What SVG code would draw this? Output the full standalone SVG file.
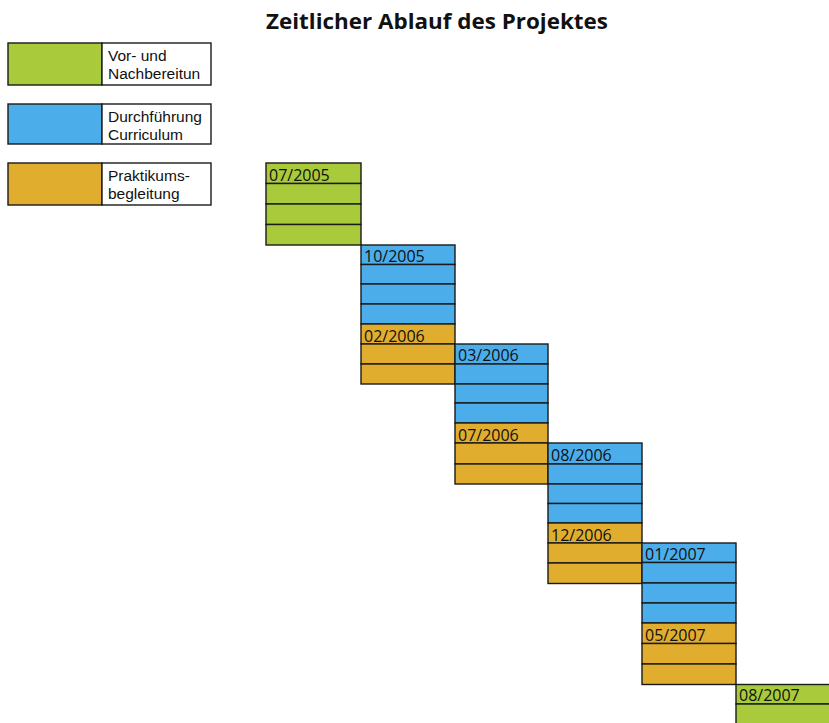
<svg xmlns="http://www.w3.org/2000/svg" width="829" height="723" viewBox="0 0 829 723">
<style>
.g{fill:#a9ca3a;stroke:#1a1a1a;stroke-width:1.4}
.b{fill:#4badea;stroke:#1a1a1a;stroke-width:1.4}
.o{fill:#e1ad2f;stroke:#1a1a1a;stroke-width:1.4}
.w{fill:#ffffff;stroke:#1a1a1a;stroke-width:1.4}
.t{font-family:"Liberation Sans",Arial,sans-serif;font-size:15.5px;fill:#111}
.d{font-family:"Open Sans","Liberation Sans",sans-serif;font-size:16px;fill:#111}
.h{font-family:"Open Sans","Liberation Sans",sans-serif;font-size:21px;font-weight:bold;fill:#111}
</style>
<rect width="829" height="723" fill="#ffffff"/>
<text class="h" x="266" y="29" textLength="342" lengthAdjust="spacingAndGlyphs">Zeitlicher Ablauf des Projektes</text>
<g id="legend-vor">
<rect class="g" x="8" y="43" width="94" height="42"/>
<rect class="w" x="102" y="43" width="109" height="42"/>
<text class="t" x="108" y="61">Vor- und</text>
<text class="t" x="108" y="79">Nachbereitun</text>
</g>
<g id="legend-durch">
<rect class="b" x="8" y="104" width="94" height="40"/>
<rect class="w" x="102" y="104" width="109" height="40"/>
<text class="t" x="108" y="122">Durchführung</text>
<text class="t" x="108" y="140">Curriculum</text>
</g>
<g id="legend-prakt">
<rect class="o" x="8" y="163" width="94" height="42"/>
<rect class="w" x="102" y="163" width="109" height="42"/>
<text class="t" x="108" y="181">Praktikums-</text>
<text class="t" x="108" y="199">begleitung</text>
</g>
<g id="p1-vor">
<rect class="g" x="266" y="163" width="95" height="20.5"/>
<rect class="g" x="266" y="183.5" width="95" height="20.5"/>
<rect class="g" x="266" y="204" width="95" height="20.5"/>
<rect class="g" x="266" y="224.5" width="95" height="20.5"/>
<text class="d" x="269" y="181">07/2005</text>
</g>
<g id="p2-durch">
<rect class="b" x="361" y="245" width="94" height="19.5"/>
<rect class="b" x="361" y="264.5" width="94" height="19.5"/>
<rect class="b" x="361" y="284" width="94" height="20"/>
<rect class="b" x="361" y="304" width="94" height="20"/>
<text class="d" x="364" y="262">10/2005</text>
</g>
<g id="p3-prakt">
<rect class="o" x="361" y="324" width="94" height="20"/>
<rect class="o" x="361" y="344" width="94" height="20"/>
<rect class="o" x="361" y="364" width="94" height="20"/>
<text class="d" x="364" y="342">02/2006</text>
</g>
<g id="p4-durch">
<rect class="b" x="455" y="344" width="93" height="20"/>
<rect class="b" x="455" y="364" width="93" height="20"/>
<rect class="b" x="455" y="384" width="93" height="19"/>
<rect class="b" x="455" y="403" width="93" height="20"/>
<text class="d" x="458" y="361">03/2006</text>
</g>
<g id="p5-prakt">
<rect class="o" x="455" y="423" width="93" height="20"/>
<rect class="o" x="455" y="443" width="93" height="21"/>
<rect class="o" x="455" y="464" width="93" height="20"/>
<text class="d" x="458" y="441">07/2006</text>
</g>
<g id="p6-durch">
<rect class="b" x="548" y="443" width="94" height="21"/>
<rect class="b" x="548" y="464" width="94" height="20"/>
<rect class="b" x="548" y="484" width="94" height="19.5"/>
<rect class="b" x="548" y="503.5" width="94" height="19.5"/>
<text class="d" x="551" y="461">08/2006</text>
</g>
<g id="p7-prakt">
<rect class="o" x="548" y="523" width="94" height="20"/>
<rect class="o" x="548" y="543" width="94" height="20"/>
<rect class="o" x="548" y="563" width="94" height="20.5"/>
<text class="d" x="551" y="541">12/2006</text>
</g>
<g id="p8-durch">
<rect class="b" x="642" y="543" width="94" height="19.5"/>
<rect class="b" x="642" y="562.5" width="94" height="20.5"/>
<rect class="b" x="642" y="583" width="94" height="20"/>
<rect class="b" x="642" y="603" width="94" height="20"/>
<text class="d" x="645" y="560">01/2007</text>
</g>
<g id="p9-prakt">
<rect class="o" x="642" y="623" width="94" height="20.5"/>
<rect class="o" x="642" y="643.5" width="94" height="20.5"/>
<rect class="o" x="642" y="664" width="94" height="20.5"/>
<text class="d" x="645" y="641">05/2007</text>
</g>
<g id="p10-nach">
<rect class="g" x="736" y="684.5" width="96" height="19.5"/>
<rect class="g" x="736" y="704" width="96" height="22"/>
<text class="d" x="739" y="701">08/2007</text>
</g>
</svg>
